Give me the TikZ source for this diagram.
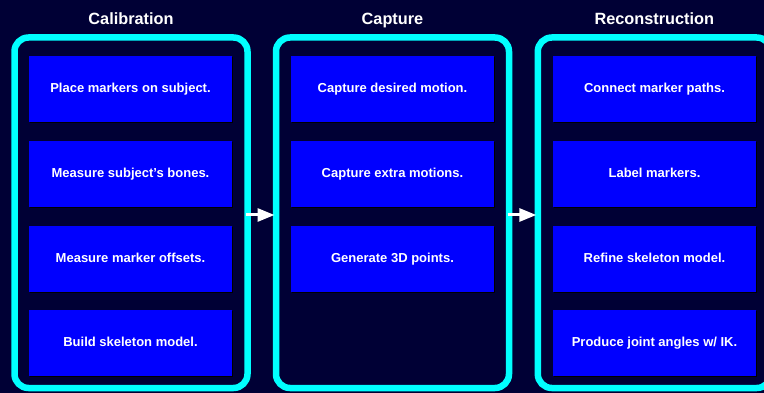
\documentclass[tikz,border=0pt]{standalone}
\usepackage{fontspec}
\setmainfont{Liberation Sans}
\usetikzlibrary{arrows.meta,shadows}
\definecolor{bgnavy}{HTML}{000035}
\definecolor{stagecyan}{HTML}{00FFFF}
\definecolor{stepblue}{HTML}{0000FF}
\begin{document}
\begin{tikzpicture}[x=1pt,y=-1pt,
  stage/.style={draw=stagecyan, line width=6.5pt, rounded corners=14pt,
    minimum width=233pt, minimum height=350.5pt, inner sep=0pt, outer sep=0pt},
  stagetitle/.style={text=white, anchor=base, font=\fontsize{16.3}{19}\selectfont\bfseries},
  stepbox/.style={fill=stepblue, minimum width=203pt, minimum height=66pt,
    inner sep=0pt, text=white, text height=9.4pt, text depth=2.6pt,
    font=\fontsize{13}{15}\selectfont\bfseries,
    drop shadow={shadow xshift=1pt, shadow yshift=-1pt, opacity=1, fill=black}},
  flow/.style={draw=white, line width=3pt, -{Triangle[length=17pt,width=13pt]},
    shorten >=1.5pt, shorten <=-1.5pt}]

% page and background
\useasboundingbox (0,0) rectangle (764,393);
\clip (0,0) rectangle (764,393);
\fill[bgnavy] (0,0) rectangle (764,393);

% stage frames
\node[stage] (p1) at (131,212.75) {};
\node[stage] (p2) at (392.5,212.75) {};
\node[stage] (p3) at (654.3,212.75) {};

% stage titles, sharing one baseline
\node[stagetitle] (t1) at (131,25) {Calibration};
\node[stagetitle] (t2) at (392.5,25) {Capture};
\node[stagetitle] (t3) at (654.3,25) {Reconstruction};

% calibration steps
\node[stepbox] (c1) at (130.5,89) {Place markers on subject.};
\node[stepbox] (c2) at (130.5,174) {Measure subject's bones.};
\node[stepbox] (c3) at (130.5,259) {Measure marker offsets.};
\node[stepbox] (c4) at (130.5,343) {Build skeleton model.};

% capture steps
\node[stepbox] (m1) at (392.5,89) {Capture desired motion.};
\node[stepbox] (m2) at (392.5,174) {Capture extra motions.};
\node[stepbox] (m3) at (392.5,259) {Generate 3D points.};

% reconstruction steps
\node[stepbox] (r1) at (654.5,89) {Connect marker paths.};
\node[stepbox] (r2) at (654.5,174) {Label markers.};
\node[stepbox] (r3) at (654.5,259) {Refine skeleton model.};
\node[stepbox] (r4) at (654.5,343) {Produce joint angles w/ IK.};

% flow between stages
\draw[flow] ([yshift=-2.25pt]p1.east) -- ([yshift=-2.25pt]p2.west);
\draw[flow] ([yshift=-2.25pt]p2.east) -- ([yshift=-2.25pt]p3.west);
\end{tikzpicture}
\end{document}
